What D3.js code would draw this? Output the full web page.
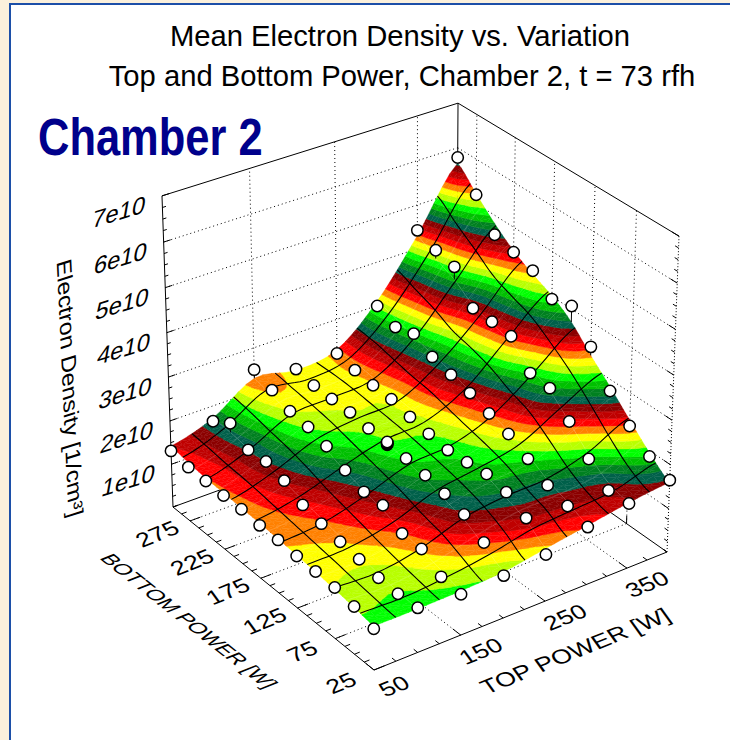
<!DOCTYPE html>
<html>
<head>
<meta charset="utf-8">
<script src="https://cdn.jsdelivr.net/npm/d3@7"></script>
<style>
  body { margin: 0; background: #fbf0dc; }
  text { font-family: "Liberation Sans", Arial, sans-serif; fill: #000; }
</style>
</head>
<body>
<svg id="chart" width="730" height="740"></svg>
<script>
// axes
const topPower = [50, 100, 150, 200, 250, 300, 350, 400]
const bottomPower = [25, 50, 75, 100, 125, 150, 175, 200, 225, 250, 275, 300]
const topTicks = [50, 150, 250, 350]
const bottomTicks = [25, 75, 125, 175, 225, 275]
const densityTicks = [1, 2, 3, 4, 5, 6, 7]

// measured points, 1e10 / cm3, one row per top power, bottom power 25 -> 300
const measured50 = [0.92, 1.07, 1.15, 1.17, 1.18, 1.21, 1.21, 1.25, 1.24, 1.25, 1.25, 1.31]
const measured100 = [1.00, 0.97, 0.99, 1.07, 1.13, 1.21, 1.31, 1.54, 1.66, 1.61, 1.91, 1.65]
const measured150 = [0.92, 0.97, 1.26, 1.28, 1.59, 1.57, 1.74, 1.97, 2.10, 2.15, 2.33, 2.50]
const measured200 = [0.96, 1.37, 1.67, 1.81, 1.91, 1.97, 2.01, 2.03, 2.09, 2.09, 2.10, 2.18]
const measured250 = [1.06, 1.55, 1.81, 1.90, 1.85, 1.81, 1.87, 1.95, 2.05, 2.07, 2.12, 2.21]
const measured300 = [1.31, 1.46, 1.61, 1.89, 2.14, 2.30, 2.46, 2.58, 2.69, 2.93, 2.79, 2.99]
const measured350 = [1.48, 1.45, 1.85, 2.39, 2.84, 2.88, 3.42, 3.46, 3.48, 4.14, 4.24, 4.42]
const measured400 = [1.65, 1.87, 2.25, 2.74, 3.44, 4.07, 3.94, 4.30, 4.44, 4.56, 5.20, 5.78]
// repeated runs at the centre of the design (200 W top, 175 W bottom)
const centreRuns = [1.97, 1.99, 2.01, 2.03]

// fitted surface
const surface50 = [0.98, 1.05, 1.11, 1.16, 1.20, 1.235, 1.26, 1.28, 1.30, 1.32, 1.36, 1.42]
const surface100 = [0.98, 1.02, 1.08, 1.17, 1.25, 1.33, 1.42, 1.52, 1.60, 1.64, 1.70, 1.72]
const surface150 = [1.00, 1.12, 1.24, 1.34, 1.48, 1.60, 1.72, 1.88, 2.00, 2.10, 2.20, 2.30]
const surface200 = [1.05, 1.30, 1.55, 1.68, 1.82, 1.92, 2.00, 2.05, 2.12, 2.15, 2.15, 2.15]
const surface250 = [1.20, 1.50, 1.68, 1.85, 1.93, 2.00, 2.08, 2.15, 2.18, 2.25, 2.30, 2.30]
const surface300 = [1.35, 1.55, 1.72, 1.98, 2.20, 2.35, 2.50, 2.65, 2.75, 2.87, 3.00, 3.10]
const surface350 = [1.50, 1.62, 1.95, 2.38, 2.78, 3.00, 3.28, 3.42, 3.55, 3.85, 4.05, 4.30]
const surface400 = [1.60, 1.95, 2.38, 2.83, 3.25, 3.71, 4.01, 4.22, 4.47, 4.81, 5.22, 5.65]

const bandColors = ['#00604a', '#008020', '#00c000', '#00ff00', '#b8ff00', '#ffff00', '#ff8000', '#ff0000', '#bf0000', '#8b0000']
const bandBase = 0.62
const bandStep = 0.1

const measuredRows = [measured50, measured100, measured150, measured200, measured250, measured300, measured350, measured400]
const surfaceRows = [surface50, surface100, surface150, surface200, surface250, surface300, surface350, surface400]

const svg = d3.select('#chart')

const xScale = d3.scaleLinear().domain([50, 400]).range([0, 1])
const yScale = d3.scaleLinear().domain([25, 300]).range([0, 1])
const zScale = d3.scaleLinear().domain([0, 7]).range([0, 1])

// perspective camera fitted on the corners of the box
const project = (x, y, z) => {
  const X = xScale(x), Y = yScale(y), Z = zScale(z)
  const w = 1 + 0.05094 * X + 0.07305 * Y - 0.04723 * Z
  return [(374 + 327 * X - 188.36 * Y - 19.46 * Z) / w, (670 - 89.88 * X - 125.96 * Y - 343.1 * Z) / w]
}

const line3d = d3.line()

// page
svg.append('rect').attr('x', 9).attr('y', 3).attr('width', 721).attr('height', 737).attr('fill', '#1c4fa8')
svg.append('rect').attr('x', 11).attr('y', 5).attr('width', 719).attr('height', 735).attr('fill', '#fff')

const drawLine = (a, b, dash, width) => {
  svg.append('path')
    .attr('d', line3d([project(...a), project(...b)]))
    .attr('fill', 'none')
    .attr('stroke', '#000')
    .attr('stroke-width', width || 1)
    .attr('stroke-dasharray', dash || null)
}

const dots = '1 3'
const xMax = 400, yMax = 300, zMax = 7, xMin = 50, yMin = 25

// grid on the walls and the floor
densityTicks.filter(d => d < zMax).forEach(d => {
  drawLine([xMin, yMax, d], [xMax, yMax, d], dots)
  drawLine([xMax, yMax, d], [xMax, yMin, d], dots)
})
topTicks.filter(d => d > xMin).forEach(d => {
  drawLine([d, yMax, 0], [d, yMax, zMax], dots)
  drawLine([d, yMin, 0], [d, yMax, 0], dots)
})
bottomTicks.filter(d => d > yMin).forEach(d => {
  drawLine([xMax, d, 0], [xMax, d, zMax], dots)
  drawLine([xMin, d, 0], [xMax, d, 0], dots)
  drawLine([xMax, d, 0], [xMax, d, 0.18])
})
drawLine([xMax, yMin, 0], [xMax, yMin, zMax], '1 2')

// box edges
drawLine([xMin, yMax, 0], [xMin, yMax, zMax])
drawLine([xMax, yMax, 0], [xMax, yMax, zMax])
drawLine([xMin, yMax, zMax], [xMax, yMax, zMax])
drawLine([xMax, yMax, zMax], [xMax, yMin, zMax])
drawLine([xMin, yMin, 0], [xMax, yMin, 0])
drawLine([xMin, yMin, 0], [xMin, yMax, 0])
drawLine([xMin, yMax, 0], [xMax, yMax, 0])
drawLine([xMax, yMin, 0], [xMax, yMax, 0])

// tick marks, four intervals between labels
d3.range(50, 401, 25).forEach(d => {
  const len = topTicks.includes(d) ? 10 : 5
  drawLine([d, yMin, 0], [d, yMin + len, 0])
})
d3.range(25, 301, 12.5).forEach(d => {
  const len = bottomTicks.includes(d) ? 12 : 6
  drawLine([xMin, d, 0], [xMin + len, d, 0])
})
d3.range(0, 7.01, 0.25).forEach(d => {
  const len = densityTicks.includes(d) ? 8 : 4
  drawLine([xMin, yMax, d], [xMin + len, yMax, d])
  drawLine([xMax, yMin, d], [xMax, yMin + len, d])
})

// catmull-rom through the read values, only for drawing the smooth sheet
const spline = (a, t) => {
  const k = Math.min(Math.floor(t), a.length - 2)
  const u = t - k
  const p0 = a[Math.max(k - 1, 0)], p1 = a[k], p2 = a[k + 1], p3 = a[Math.min(k + 2, a.length - 1)]
  return 0.5 * (2 * p1 + (p2 - p0) * u + (2 * p0 - 5 * p1 + 4 * p2 - p3) * u * u + (3 * p1 - p0 - 3 * p2 + p3) * u * u * u)
}
const surfaceAt = (si, sj) => spline(surfaceRows.map(r => spline(r, sj)), si)
const topAt = d3.scaleLinear().domain([0, topPower.length - 1]).range(d3.extent(topPower))
const bottomAt = d3.scaleLinear().domain([0, bottomPower.length - 1]).range(d3.extent(bottomPower))

const vertex = (si, sj) => ({x: topAt(si), y: bottomAt(sj), z: surfaceAt(si, sj)})
const vertexPx = (si, sj) => {
  const v = vertex(si, sj)
  return project(v.x, v.y, v.z)
}

const clipAbove = (poly, level, keepAbove) => {
  const out = []
  poly.forEach((p, i) => {
    const q = poly[(i + 1) % poly.length]
    const pIn = keepAbove ? p.z >= level : p.z <= level
    const qIn = keepAbove ? q.z >= level : q.z <= level
    if (pIn) out.push(p)
    if (pIn !== qIn) {
      const t = (level - p.z) / (q.z - p.z)
      out.push({x: p.x + (q.x - p.x) * t, y: p.y + (q.y - p.y) * t, z: level})
    }
  })
  return out
}

const sub = 5
const polys = []
const addTriangle = tri => {
  const lo = Math.floor((d3.min(tri, d => d.z) - bandBase) / bandStep)
  const hi = Math.floor((d3.max(tri, d => d.z) - bandBase) / bandStep)
  for (let b = lo; b <= hi; b++) {
    let poly = clipAbove(tri, bandBase + b * bandStep, true)
    if (poly.length) poly = clipAbove(poly, bandBase + (b + 1) * bandStep, false)
    if (poly.length > 2) polys.push({color: bandColors[((b % 10) + 10) % 10], pts: poly.map(p => project(p.x, p.y, p.z))})
  }
}

// back corner first so nearer cells paint over
for (let a = (topPower.length - 1) * sub - 1; a >= 0; a--) {
  for (let c = (bottomPower.length - 1) * sub - 1; c >= 0; c--) {
    const v00 = vertex(a / sub, c / sub), v10 = vertex((a + 1) / sub, c / sub)
    const v01 = vertex(a / sub, (c + 1) / sub), v11 = vertex((a + 1) / sub, (c + 1) / sub)
    addTriangle([v11, v10, v01])
    addTriangle([v10, v00, v01])
  }
}

svg.append('g').selectAll('path')
  .data(polys)
  .enter()
  .append('path')
  .attr('d', d => line3d(d.pts) + 'Z')
  .attr('fill', d => d.color)
  .attr('stroke', d => d.color)
  .attr('stroke-width', 0.4)

// lines along the sheet, given as offsets in the top and bottom power steps
const sheetLines = (parent, iList, jList) => {
  const iMax = topPower.length - 1, jMax = bottomPower.length - 1
  const ts = d3.range(0, 61).map(d => d / 60)
  iList.forEach(i => parent.append('path').attr('d', line3d(ts.map(t => vertexPx(i, t * jMax)))))
  jList.forEach(j => parent.append('path').attr('d', line3d(ts.map(t => vertexPx(t * iMax, j)))))
}

// mesh has 7 cells across top power and 8 across bottom power
const jMesh = (bottomPower.length - 1) / 8

// faint seams between the facets
sheetLines(svg.append('g').attr('fill', 'none').attr('stroke', '#fff').attr('stroke-opacity', 0.28).attr('stroke-width', 0.6),
  d3.range(1, topPower.length - 1), d3.range(1, 8).map(d => d * jMesh))
// black mesh
sheetLines(svg.append('g').attr('fill', 'none').attr('stroke', '#000').attr('stroke-width', 1.1),
  d3.range(0, topPower.length - 1).map(d => d + 0.5), d3.range(0, 8).map(d => (d + 0.5) * jMesh))

// measured points, the ones above the sheet hang on a short stem
const points = []
measuredRows.forEach((row, i) => row.forEach((d, j) => points.push({top: topPower[i], bottom: bottomPower[j], value: d, fit: surfaceRows[i][j]})))
centreRuns.forEach(d => points.push({top: 200, bottom: 175, value: d, fit: surface200[6]}))

svg.append('g').selectAll('path')
  .data(points.filter(d => d.value > d.fit))
  .enter()
  .append('path')
  .attr('d', d => line3d([project(d.top, d.bottom, d.value), project(d.top, d.bottom, d.fit)]))
  .attr('stroke', '#000')
  .attr('stroke-width', 1)

svg.append('g').selectAll('circle')
  .data(points)
  .enter()
  .append('circle')
  .attr('cx', d => project(d.top, d.bottom, d.value)[0])
  .attr('cy', d => project(d.top, d.bottom, d.value)[1])
  .attr('r', 5.7)
  .attr('fill', '#fff')
  .attr('stroke', '#000')
  .attr('stroke-width', 1.5)

// text lying in a plane of the box
const planeText = (label, cx, cy, dir, up, size) => {
  return svg.append('text')
    .attr('transform', `matrix(${dir[0]},${dir[1]},${-up[0]},${-up[1]},${cx},${cy})`)
    .attr('text-anchor', 'middle')
    .attr('dy', '0.35em')
    .attr('font-size', size)
    .text(label)
}

const floorDir = [1.075, -0.435], floorUp = [-0.58, -0.8]
topTicks.forEach(d => {
  const p = project(d, yMin, 0)
  planeText(d, p[0] + 20, p[1] + 16, floorDir, floorUp, 22)
})
bottomTicks.forEach(d => {
  const p = project(xMin, d, 0)
  planeText(d, p[0] - 33, p[1] + 13, floorDir, floorUp, 22)
})
densityTicks.forEach(d => {
  const p = project(xMin, yMax, d)
  planeText(`${d}e10`, p[0] - 43, p[1] + 16, [1.08, -0.33], [0.2, -1.12], 22)
})

planeText('TOP POWER [W]', 575, 651, floorDir, floorUp, 22)
planeText('BOTTOM POWER [W]', 189, 621, [0.75, 0.59], [0.9, -0.36], 22)
planeText('Electron Density [1/cm³]', 70, 388, [0.05, 1.1], [0.95, -0.3], 22)

// titles
svg.append('text').attr('x', 400).attr('y', 46).attr('text-anchor', 'middle').attr('font-size', 29.2)
  .text('Mean Electron Density vs. Variation')
svg.append('text').attr('x', 402).attr('y', 86).attr('text-anchor', 'middle').attr('font-size', 29.2)
  .text('Top and Bottom Power, Chamber 2, t = 73 rfh')
svg.append('text')
  .attr('transform', 'translate(38,155) scale(0.836,1)')
  .attr('font-size', 52)
  .attr('font-weight', 'bold')
  .style('fill', '#00008b')
  .text('Chamber 2')
</script>
</body>
</html>
